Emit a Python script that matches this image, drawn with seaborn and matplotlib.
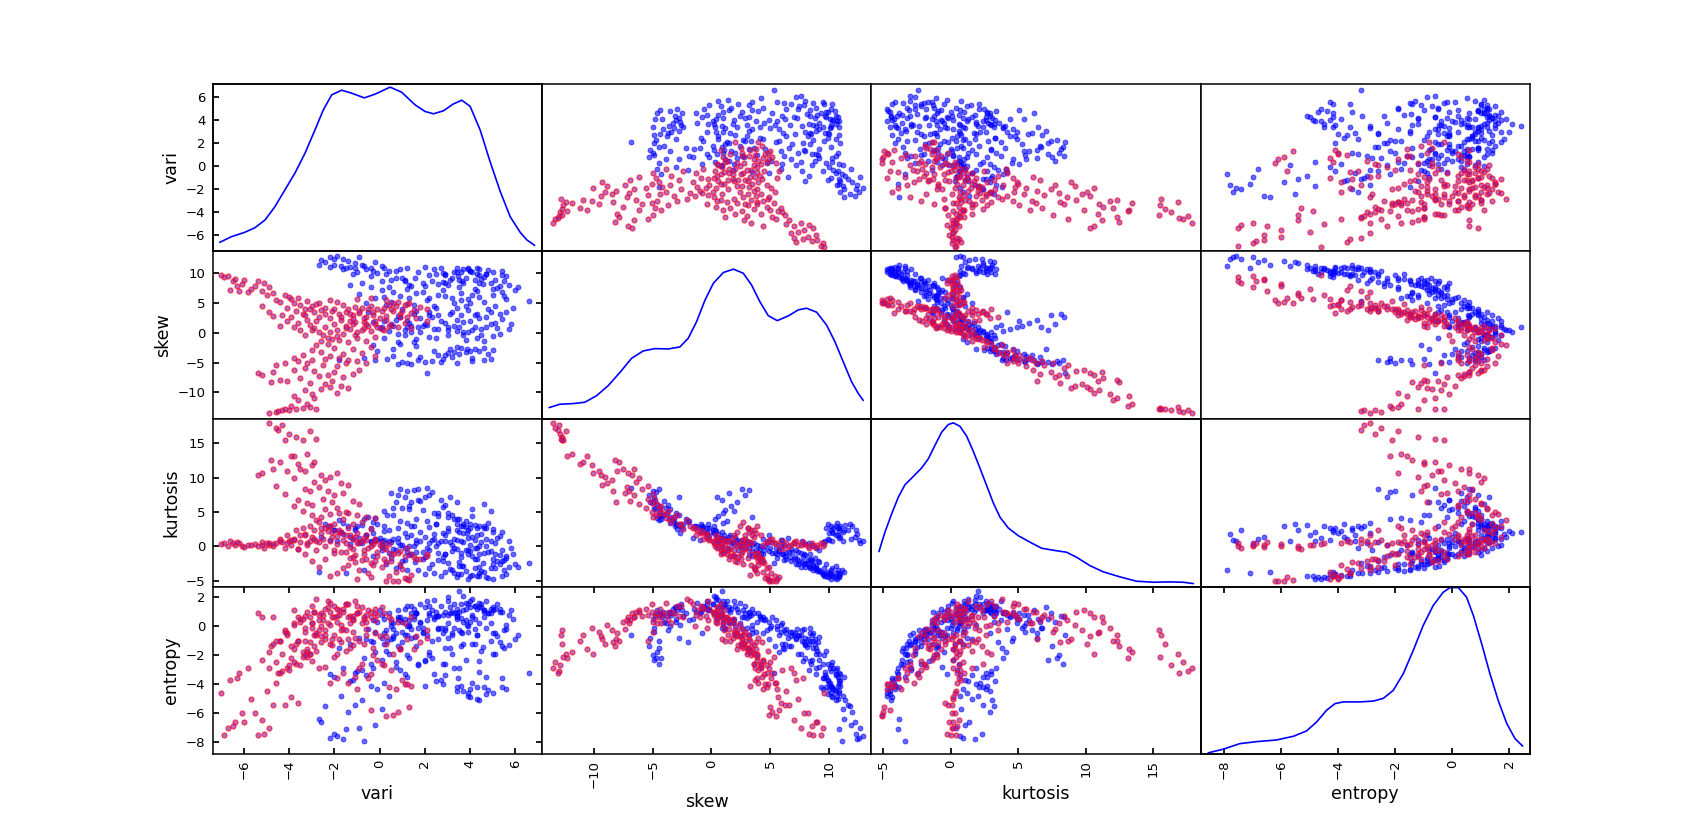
import matplotlib
matplotlib.use('Agg')
import matplotlib.pyplot as plt
import pandas as pd
import seaborn as sns

sns.set_theme(style="white", font="DejaVu Sans", rc={
    'axes.edgecolor': 'black', 'axes.linewidth': 1.1,
    'xtick.direction': 'in', 'ytick.direction': 'in',
    'xtick.top': True, 'ytick.right': True,
    'xtick.bottom': True, 'ytick.left': True,
    'xtick.major.size': 4, 'ytick.major.size': 4,
    'xtick.color': 'black', 'ytick.color': 'black',
    'text.color': 'black', 'axes.labelcolor': 'black',
})

columns = ['vari', 'skew', 'kurtosis', 'entropy']
vari_ticks = [-6, -4, -2, 0, 2, 4, 6]
skew_ticks = [-10, -5, 0, 5, 10]
kurt_ticks = [-5, 0, 5, 10, 15]
entropy_ticks = [-8, -6, -4, -2, 0, 2]

# rows are (vari, skew, kurtosis, entropy)
genuine_high_skew = [
    (3.62, 8.67, -2.81, -0.45), (4.55, 8.17, -2.46, -1.46), (3.46, 9.52, -4.01, -3.59), (4.37, 9.67, -3.96, -3.16),
    (1.54, 9.18, -2.27, -0.74), (2.4, 10.6, -3.9, -3.3), (2.9, 9.9, -3.7, -2.6), (3.1, 8.9, -3.3, -1.5),
    (3.8, 9.2, -3.6, -2.3), (4.1, 10.1, -4.2, -3.9), (0.7, 10.3, -3.2, -2.5), (1.2, 10.8, -3.4, -3.5),
    (0.3, 9.8, -2.6, -1.7), (1.9, 8.4, -1.9, -0.5), (2.6, 8.2, -2.0, -0.9), (5.1, 8.9, -3.2, -1.9),
    (5.4, 9.6, -4.3, -3.6), (4.8, 10.5, -4.6, -4.4), (3.9, 10.7, -4.7, -4.8), (3.4, 10.9, -4.5, -4.5),
    (4.3, 9.8, -4.4, -4.2), (4.0, 10.3, -4.3, -4.9), (3.6, 10.2, -4.1, -4.1), (4.6, 9.3, -3.8, -4.2),
    (5.6, 9.5, -4.1, -4.3), (5.3, 7.9, -2.6, -1.1), (5.7, 8.0, -3.0, -1.3), (6.1, 7.6, -3.0, -0.6),
    (4.9, 8.4, -3.1, -1.0), (4.2, 8.8, -3.2, -1.2), (3.3, 10.1, -3.9, -2.9), (2.2, 9.6, -3.2, -2.0),
    (1.7, 10.2, -3.5, -2.7), (1.0, 9.1, -2.2, -1.1), (0.5, 8.8, -1.7, -0.9), (2.0, 11.0, -4.1, -4.1),
    (2.7, 10.9, -4.3, -3.7), (1.4, 7.9, -1.2, -0.2), (3.0, 8.0, -2.5, -0.8), (4.7, 9.9, -4.5, -4.7),
    (3.7, 8.3, -2.9, -1.2), (5.0, 10.2, -4.7, -4.6), (4.4, 10.6, -4.4, -5.1), (3.2, 9.2, -3.4, -1.9),
    (2.3, 8.7, -2.6, -1.0), (1.1, 8.6, -2.0, -0.6), (5.2, 7.5, -2.2, -0.7), (3.5, 7.7, -2.3, -0.3),
    (4.5, 9.0, -3.6, -1.7), (0.9, 10.6, -2.9, -3.0), (4.2, 7.3, -1.9, -0.2), (5.5, 8.7, -3.5, -1.5),
    (0.1, 8.6, 0.2, -2.3), (0.7, 9.2, -0.6, -2.8), (1.1, 8.9, -0.3, -3.3), (-0.4, 9.5, 0.6, -2.6),
    (-0.8, 8.3, 0.5, -3.0), (-1.2, 9.9, 1.1, -3.7), (-0.1, 10.0, 0.9, -4.3), (0.4, 10.3, 0.7, -4.8),
    (1.3, 8.0, -1.3, -2.2), (2.0, 7.8, -1.6, -2.4), (2.8, 8.5, -2.2, -2.6), (3.5, 8.9, -2.9, -2.9),
    (4.4, 8.4, -3.0, -2.4), (5.0, 7.4, -2.6, -1.9), (0.4, 7.6, -1.0, -1.9), (2.9, 8.4, -1.2, -0.1),
]
genuine_top_skew = [
    (-2.6, 12.2, 1.4, -6.6), (-2.2, 12.6, 0.9, -7.7), (-1.9, 12.9, 0.7, -7.6), (-2.0, 12.3, 2.3, -7.4),
    (-1.4, 12.0, 2.9, -5.9), (-1.1, 11.6, 2.4, -5.4), (-0.8, 11.4, 3.1, -5.1), (-0.4, 10.8, 2.7, -4.1),
    (-1.6, 12.4, 1.8, -7.8), (-2.4, 11.8, 3.2, -5.5), (-1.7, 11.2, 2.0, -4.8), (-0.2, 11.9, 1.1, -6.8),
    (0.2, 10.9, 2.2, -3.9), (-0.9, 12.7, 0.4, -7.0), (-1.3, 11.0, 1.3, -3.8), (-0.6, 10.6, 1.6, -3.4),
    (0.1, 11.2, 0.8, -5.7), (-2.7, 11.3, -3.8, -6.4), (-1.5, 10.9, -3.9, -7.1), (-0.7, 11.1, -3.4, -7.9),
    (-0.3, 10.4, 1.9, -2.9), (-1.0, 10.2, 3.0, -3.1), (6.6, 5.3, -2.4, -3.2),
]
genuine_mid_skew = [
    (3.6, 3.0, 0.73, 0.56), (3.2, 5.76, -0.75, -0.61), (4.4, 6.0, -1.2, 0.2), (2.6, 6.4, -1.0, -0.2),
    (2.1, 5.5, -0.2, 0.4), (1.3, 5.9, 0.1, 0.1), (0.6, 6.8, -0.4, -0.7), (0.1, 7.2, -0.6, -0.8),
    (5.0, 6.4, -1.8, -0.5), (5.6, 5.6, -1.7, -0.2), (5.9, 4.2, -1.1, 0.5), (4.9, 3.5, -0.7, 1.2),
    (4.2, 2.9, -0.2, 1.4), (3.4, 2.2, 0.9, 1.2), (2.9, 1.6, 1.7, 1.0), (2.0, 1.5, 1.4, 1.3),
    (1.4, 1.1, 1.6, 1.4), (0.8, 2.8, 0.6, 0.6), (1.6, 3.6, 0.5, 0.9), (2.5, 4.1, 0.1, 0.7),
    (3.8, 4.5, -0.5, 0.4), (4.6, 5.2, -1.0, 0.6), (5.2, 0.8, 1.2, 1.5), (4.7, 1.0, 1.0, 1.7),
    (4.1, 0.4, 1.3, 1.9), (3.7, 0.2, 1.9, 2.1), (3.5, 0.9, 2.0, 2.4), (3.0, 0.4, 2.2, 2.0),
    (2.4, 0.6, 1.8, 1.8), (1.8, 0.1, 2.1, 1.5), (1.1, -0.4, 1.9, 1.2), (0.4, 0.3, 2.4, 0.9),
    (4.0, 1.9, 0.2, 1.7), (4.4, 2.4, 0.1, 1.6), (3.1, 3.2, 0.6, 0.9), (2.3, 2.7, 0.9, 1.1),
    (1.0, 3.9, 0.2, 0.3), (0.3, 4.7, 0.5, -0.3), (-0.2, 5.9, 0.9, -0.4), (-0.6, 4.9, 1.6, -0.9),
    (5.4, 2.3, -0.5, 1.0), (5.8, 1.4, -0.3, 1.1), (5.3, 3.2, -1.3, 1.0), (4.8, 4.0, -0.9, 0.9),
    (3.9, 5.6, -1.1, 0.0), (4.3, 7.0, -1.8, -0.6), (2.8, 7.1, -1.5, -0.5), (1.9, 6.9, -0.8, -0.4),
    (1.2, 7.4, -0.9, -0.6), (0.5, 5.1, 0.6, 0.0), (4.5, 0.6, 0.6, 1.3), (3.3, 1.2, 1.1, 1.5),
    (2.7, 2.0, 0.8, 1.4), (5.1, 1.7, 0.4, 1.2), (2.2, 3.4, 0.4, 0.8), (1.5, 4.6, 0.0, 0.5),
    (3.6, 6.7, -1.6, -0.4), (5.5, 6.2, -2.0, -0.3), (4.0, 4.9, -0.7, 0.3), (3.4, 4.1, -0.4, 0.6),
    (6.0, 7.2, -2.6, -0.9), (-0.9, 6.5, 1.2, -0.8), (-1.3, 8.0, 0.3, -1.2), (-0.4, 7.7, 0.7, -1.0),
    (4.1, 6.3, -1.4, -1.2), (3.6, 5.4, -1.0, -1.4), (2.9, 6.1, -1.1, -1.5), (2.2, 5.8, -0.5, -1.8),
    (1.6, 6.6, -0.9, -1.4), (0.9, 6.2, 0.2, -1.6), (5.4, 6.8, -2.2, -1.4), (0.2, 6.0, 0.9, -1.2),
    (3.9, 3.8, -0.6, -0.4), (4.3, 3.2, -0.3, -0.6), (4.7, 2.6, 0.0, -0.1), (5.1, 4.4, -1.2, -0.5),
    (3.2, 3.5, 0.2, -0.5), (2.6, 3.0, 0.5, -0.1), (1.8, 2.4, 0.8, 0.2), (1.2, 2.0, 1.3, 0.0),
    (0.6, 1.2, 1.0, -0.2), (3.7, 1.8, 0.6, 0.3), (4.2, 1.0, 0.9, 0.5), (4.9, 1.5, 0.7, 0.2),
    (5.6, 3.5, -1.4, 0.1), (3.0, -0.4, 2.6, 1.7), (2.2, -0.7, 2.8, 1.4), (1.5, -1.5, 3.0, 1.2),
    (0.8, -0.2, 2.7, 1.1), (3.8, -1.2, 2.8, 1.6), (4.5, -0.4, 1.8, 1.5), (5.3, -0.2, 1.5, 1.2),
    (5.7, 0.6, 0.8, 0.8),
]
genuine_low_skew = [
    (2.09, -6.81, 8.46, -0.6), (0.33, -4.46, 4.57, -0.99), (3.87, -2.64, 1.92, 0.11), (1.0, -4.9, 5.5, -0.4),
    (1.4, -5.2, 6.4, -0.8), (2.0, -4.9, 7.2, -2.3), (1.7, -4.5, 8.3, -2.6), (2.3, -4.7, 7.9, -2.2),
    (1.2, -5.0, 8.0, -2.0), (0.6, -3.9, 5.6, 0.2), (2.6, -3.8, 4.8, 0.7), (3.0, -3.4, 4.2, 0.8),
    (3.3, -3.2, 3.9, 0.9), (3.5, -3.6, 4.0, 1.0), (3.8, -3.3, 3.6, 1.2), (4.0, -3.0, 3.3, 1.3),
    (4.2, -2.8, 3.1, 1.4), (4.4, -3.1, 2.9, 1.3), (4.6, -2.5, 2.7, 1.1), (3.6, -2.6, 3.0, 1.5),
    (3.2, -4.1, 4.6, 1.0), (2.8, -4.4, 5.7, 0.8), (4.8, -3.5, 3.4, 0.9), (4.1, -4.2, 4.4, 0.6),
    (5.0, -2.9, 2.5, 1.1), (2.4, -3.0, 4.9, 0.5), (1.6, -2.2, 4.0, 0.9), (0.9, -1.9, 3.7, 0.4),
    (-0.1, -3.0, 3.2, 0.3), (3.4, -2.4, 3.2, 0.7), (1.8, -4.0, 6.6, 0.3), (2.9, -3.7, 6.0, -0.3),
    (0.8, -5.3, 7.5, -1.4), (-0.2, -4.6, 4.1, -1.8), (-1.8, -4.5, 3.8, -1.5), (-0.7, -4.3, 3.9, -2.2),
    (4.6, -4.6, 6.2, 1.1), (3.1, -2.8, 7.1, 1.3), (4.1, -4.8, 5.4, 0.8), (3.4, -5.0, 6.5, 0.5),
    (2.7, -4.9, 6.8, -0.1), (4.9, -4.4, 5.1, 0.9), (1.3, -3.5, 5.4, 0.0), (0.6, -2.8, 4.6, -0.8),
    (-0.3, -2.0, 3.5, -1.1), (0.2, -0.8, 2.9, -0.5),
]
genuine_kurt_ridge = [
    (1.9, 1.2, 5.3, -0.1), (1.3, 1.7, 5.8, 0.4), (0.7, 2.2, 6.4, -0.5), (2.6, 0.6, 4.4, 0.7),
    (3.0, 1.0, 4.9, 0.2), (2.2, 2.9, 7.4, 0.9), (1.5, 3.2, 8.2, 0.7), (0.9, 2.6, 8.4, 0.6),
    (0.5, 1.5, 7.7, 0.3), (1.1, 0.5, 7.2, 0.5), (1.7, 0.9, 6.7, -0.1), (3.4, 0.3, 3.9, 0.9),
    (3.7, -0.3, 3.2, 1.1), (4.3, -0.8, 2.6, 1.2), (2.5, -0.9, 3.3, 1.0), (1.4, 0.2, 3.0, 0.9),
    (0.2, 1.9, 5.1, 0.5), (-0.5, 3.5, 4.2, -0.2), (5.0, -0.6, 2.1, 1.3), (4.6, -1.3, 2.9, 1.0),
    (3.9, 0.1, 2.4, 1.5), (2.1, 1.3, 3.7, 1.7), (1.2, 1.0, 3.4, 1.4), (0.0, 0.8, 1.2, 1.1),
    (0.1, 0.9, -0.1, 0.8), (-0.3, 1.8, -1.4, 0.4), (0.8, -1.6, 1.2, 0.5), (1.6, -1.0, 0.9, 0.9),
    (2.4, 4.4, 1.1, 0.6), (3.3, 5.0, -0.3, -0.1), (2.9, 9.7, 0.7, -3.4), (3.4, 10.2, 2.4, -4.2),
    (2.8, 10.0, 1.9, -4.0), (4.0, 10.4, 2.6, -4.3), (4.3, 10.8, 1.6, -5.0), (3.7, 10.6, 2.9, -4.5),
    (3.9, 10.9, 1.2, -4.6), (2.5, 9.9, 3.3, -3.8), (5.4, 10.3, 2.1, -4.2), (4.7, 9.8, 2.7, -3.5),
    (-2.2, 11.0, 3.0, -3.3), (-2.0, 11.3, 2.4, -3.5), (-1.6, 10.7, 3.4, -2.9), (-1.1, 10.9, 2.6, -3.2),
]
forged_far_tail = [
    (-4.9, -13.5, 17.9, -2.9), (-4.6, -13.3, 17.2, -2.5), (-4.3, -13.0, 17.6, -3.1), (-4.0, -12.9, 16.3, -2.7),
    (-3.7, -12.7, 15.9, -1.2), (-3.4, -12.6, 15.5, -2.1), (-3.1, -12.4, 16.8, -1.9), (-2.8, -12.8, 15.6, -0.6),
    (-4.2, -12.7, 15.4, -0.3), (-4.5, -13.1, 16.9, -3.2), (-3.9, -12.3, 13.1, -2.2), (-3.2, -11.9, 13.4, -1.8),
    (-3.6, -11.2, 12.0, -1.0), (-2.9, -10.9, 12.3, -0.6), (-3.8, -10.6, 13.2, -1.6), (-3.0, -10.2, 11.8, -0.1),
    (-3.3, -9.6, 11.0, -0.4), (-2.6, -9.4, 10.3, -0.7), (-2.2, -9.1, 10.1, -1.2), (-2.4, -8.5, 9.7, -0.3),
    (-1.9, -10.1, 10.6, -1.9), (-1.7, -8.9, 9.2, 0.1), (-1.4, -9.3, 8.9, -0.9), (-4.1, -8.0, 10.9, -0.5),
    (-3.5, -7.5, 11.3, 0.3), (-4.4, -7.9, 12.3, -1.0), (-4.8, -8.2, 12.5, -1.4), (-5.2, -7.1, 10.6, 0.6),
    (-5.4, -6.8, 10.3, 0.9), (-4.7, -6.6, 11.2, 0.6), (-3.8, -6.2, 9.9, 1.1), (-3.3, -5.9, 8.4, 0.7),
    (-2.9, -6.4, 9.3, 1.0), (-2.7, -7.2, 8.6, 0.4), (-2.3, -7.0, 8.0, 0.2), (-2.0, -6.6, 7.4, 0.6),
    (-1.6, -7.4, 7.7, -0.2), (-1.2, -6.9, 6.6, 0.4), (-0.9, -6.2, 6.1, 1.0), (-2.5, -5.4, 6.9, 0.8),
    (-1.9, -5.6, 5.6, 1.2), (-1.5, -5.1, 5.0, 1.5), (-1.0, -4.7, 4.6, 0.9), (-0.6, -5.0, 4.2, 0.3),
    (-2.1, -8.1, 6.4, -0.9), (-3.1, -8.4, 8.1, -1.1),
]
forged_upper_band = [
    (-3.1, 3.9, 3.0, -1.9), (-2.9, 3.4, 2.3, -1.4), (-2.6, 3.8, 1.9, -1.1), (-2.4, 3.1, 2.6, -0.6),
    (-2.1, 3.6, 1.3, -1.3), (-1.8, 3.2, 2.0, -0.9), (-1.5, 3.5, 1.6, -1.7), (-1.2, 2.9, 1.1, -0.4),
    (-0.9, 3.3, 0.6, -1.0), (-0.6, 2.7, 0.9, -0.6), (-0.3, 3.0, 0.3, -1.5), (0.0, 2.4, 0.2, -0.7),
    (0.3, 2.8, -0.4, -1.2), (0.6, 3.6, -1.1, -1.9), (0.9, 3.2, -0.7, -1.6), (1.2, 2.6, -0.2, -0.9),
    (1.5, 3.8, -1.5, -1.6), (1.8, 4.3, -1.9, -1.1), (2.1, 4.0, -1.2, -0.8), (-0.1, 3.9, -1.4, -2.3),
    (0.2, 4.2, -1.9, -2.7), (0.5, 4.0, -2.2, -3.0), (-0.4, 4.5, -2.5, -3.3), (-0.8, 4.1, -2.0, -2.6),
    (-1.1, 4.3, -2.3, -3.5), (-1.4, 4.0, -2.7, -3.9), (1.0, 3.7, -3.3, -3.7), (1.4, 3.3, -4.2, -4.1),
    (0.7, 4.4, -3.7, -4.3), (0.4, 4.7, -4.3, -4.2), (1.1, 4.6, -4.6, -4.0), (1.3, 5.0, -4.9, -5.6),
    (0.8, 5.2, -5.0, -5.9), (0.3, 5.5, -5.1, -6.2), (0.6, 4.9, -5.1, -6.1), (1.2, 4.8, -4.7, -4.0),
    (-2.7, 2.7, 3.5, -0.3), (-2.2, 2.4, 2.9, 0.1), (-1.7, 2.2, 2.1, -0.3), (-1.3, 1.9, 1.7, 0.2),
    (-0.7, 1.8, 1.2, 0.5), (-0.2, 1.5, 0.7, 0.4), (0.4, 1.2, 0.3, 0.6), (-3.4, 3.1, 2.7, -1.8),
    (-3.7, 3.6, 2.4, -2.6), (-4.1, 4.2, 1.6, -2.9), (-4.4, 5.2, 1.0, -3.2), (-4.0, 6.0, 0.7, -3.0),
    (-3.8, 5.0, 0.9, -2.5), (-3.5, 4.7, 0.6, -2.7), (-3.2, 5.3, 0.4, -2.1), (-2.8, 4.8, 0.7, -1.7),
    (-4.6, 5.5, 0.5, -3.9), (-5.0, 6.4, 0.4, -4.5), (-5.7, 7.4, 0.2, -5.0), (-6.1, 8.2, 0.1, -6.0),
    (-6.4, 9.0, 0.2, -6.6), (-6.7, 9.5, 0.1, -7.0), (-6.9, 9.3, 0.4, -7.5), (-6.5, 8.6, 0.5, -6.9),
    (-6.0, 8.9, -0.1, -6.6), (-5.5, 7.9, 0.3, -6.0), (-5.2, 7.0, 0.6, -6.5), (-4.9, 7.6, 0.2, -7.0),
    (-5.1, 8.3, -0.3, -7.4), (-5.4, 8.7, 0.0, -7.5), (-7.0, 9.6, 0.3, -4.6), (-6.6, 7.2, 0.8, -3.7),
    (-6.2, 7.0, 0.5, -3.2), (-5.8, 6.8, 0.2, -2.9), (-6.3, 7.8, 0.6, -3.6), (-4.2, 6.3, -0.2, -5.4),
    (-3.9, 5.7, 0.2, -4.9), (-3.6, 5.9, -0.4, -5.3), (-4.7, 6.6, 0.1, -5.4),
]
forged_mid = [
    (-2.5, -0.3, 1.0, 0.4), (-2.2, 0.1, 0.7, 1.0), (-1.9, 0.4, 0.3, 0.3), (-1.6, -0.2, 0.9, 1.2),
    (-1.3, 0.6, -0.1, 0.7), (-1.0, 0.2, 0.4, 0.9), (-0.7, 0.8, -0.5, 0.6), (-0.4, 0.3, 0.0, 1.0),
    (-0.1, 0.9, -0.8, 0.8), (0.2, 0.5, -0.3, 0.9), (0.5, 1.3, -1.2, 0.5), (0.8, 1.0, -1.0, 0.3),
    (1.1, 1.6, -1.4, 0.2), (1.4, 0.8, -1.1, 0.6), (-2.0, 1.4, -0.6, -0.6), (-1.5, 1.1, -0.9, -0.3),
    (-1.1, 1.8, -1.3, -0.8), (-0.6, 1.5, -1.8, -0.2), (-0.2, 2.0, -2.1, -0.5), (0.3, 2.2, -2.3, -0.7),
    (-2.4, 0.9, 0.1, -0.9), (-2.7, 0.2, 0.6, 0.8), (-3.0, 0.5, 1.4, 0.2), (-3.3, -0.4, 1.8, -0.1),
    (-1.8, -1.2, 2.3, 1.1), (-1.4, -1.6, 2.7, 1.5), (-1.0, -0.9, 1.9, 1.4), (-0.6, -1.3, 1.6, 0.8),
    (-0.2, -0.7, 1.1, 1.2), (-2.3, -1.8, 3.0, 1.7), (-2.8, -2.1, 3.8, 1.9), (-2.0, -2.6, 3.3, 1.4),
    (-2.6, -3.2, 4.2, 0.9), (-3.0, -2.9, 4.6, 1.4), (-1.6, -3.5, 3.9, 1.0), (-1.2, -2.8, 3.2, 0.7),
    (-0.8, -3.4, 3.5, 0.2), (-0.4, -2.4, 2.5, 0.6), (-3.4, -3.7, 5.1, 0.5), (-3.8, -4.3, 5.9, 0.2),
    (-4.2, -5.0, 7.6, -0.4), (-4.6, -5.4, 8.7, -1.0), (-3.6, -4.8, 6.8, 0.6), (-3.2, -5.1, 6.3, 1.0),
    (-2.4, -4.4, 5.4, 1.2), (-1.8, -4.2, 4.8, 0.8), (-2.1, -1.0, 2.0, 0.6), (-2.6, -1.4, 2.6, 0.0),
    (0.9, 2.7, -2.6, -1.5), (1.6, 2.5, -1.8, -0.7), (2.1, 2.0, -1.4, -0.3), (-3.6, 1.6, -0.4, -1.0),
    (-3.2, 2.2, 0.2, -1.6), (-2.8, 1.9, -0.5, -0.5), (-1.7, 2.6, -0.9, -1.1), (-1.2, 2.3, -1.6, -1.3),
    (-0.3, 3.4, -2.8, -2.0), (0.1, 3.6, -3.0, -2.6), (-0.9, 3.7, -3.4, -2.9), (-0.5, 3.9, -3.9, -3.6),
    (-4.4, 1.2, 0.7, -1.0), (-4.1, 2.0, 0.4, -0.6), (-3.8, 1.0, 1.0, 0.1), (-3.5, 0.4, 1.6, 0.5),
    (-3.1, 1.3, 0.8, 0.6), (-2.9, 0.8, 1.1, 1.0), (-4.7, 2.8, 0.3, -1.2), (-4.9, 3.4, 0.4, -1.8),
    (-4.3, 3.0, 0.6, -1.9), (-3.9, 2.6, 0.9, -1.4), (-3.3, 2.9, 1.6, -1.0), (-5.2, 4.4, 0.2, -2.3),
    (-2.3, -0.8, 2.2, 1.3), (-1.9, -0.5, 1.5, 0.7), (-1.5, 0.8, 0.5, 1.5), (-1.1, -0.3, 1.3, 1.7),
    (-0.8, 0.5, 0.7, 1.3), (-0.5, 1.1, -0.2, 1.1), (-1.2, 1.4, -0.4, 0.5), (0.1, 0.6, 0.4, 1.3),
    (-2.0, 3.9, -1.0, -2.1), (-2.4, 4.2, -1.8, -2.8), (-1.6, 4.7, -3.2, -3.2), (-1.9, 5.1, -3.9, -3.6),
    (-2.2, 5.4, -4.3, -3.9), (-1.0, 5.6, -4.7, -4.3), (-0.4, 5.8, -4.5, -5.8), (-2.7, 4.9, -3.0, -2.9),
    (-3.0, 4.4, -2.2, -2.4), (-3.3, 3.9, -1.2, -2.0), (-1.3, 3.1, -1.7, -1.5), (-0.7, 2.5, -1.2, -1.2),
    (-3.0, -4.6, 6.0, 0.2), (-2.2, -3.9, 4.7, 1.6), (-1.4, -4.5, 4.9, 0.6), (-0.2, -3.9, 4.1, 0.9),
]

curve_vari_x = [-7.07, -6.55, -5.96, -5.52, -5.07, -4.63, -4.19, -3.75, -3.30, -2.86, -2.49, -2.12, -1.68, -1.24, -0.68, -0.21,
                0.46, 0.97, 1.56, 2.0, 2.38, 2.82, 3.26, 3.63, 4.0, 4.44, 4.88, 5.33, 5.77, 6.21, 6.51, 6.85]
curve_vari_y = [.054, .088, .114, .141, .187, .267, .367, .466, .586, .725, .845, .934, .962, .944, .916, .938,
                .98, .95, .875, .835, .821, .839, .88, .902, .865, .725, .536, .357, .207, .114, .068, .036]
curve_skew_x = [-13.82, -12.91, -11.77, -10.78, -9.78, -8.79, -7.8, -6.8, -5.81, -4.81, -3.68, -2.68, -1.97, -1.26, -0.54, .17, 1.02,
                1.88, 2.71, 3.42, 4.13, 4.84, 5.61, 6.55, 7.4, 8.11, 8.97, 9.81, 10.52, 11.23, 11.94, 12.51, 12.94]
curve_skew_y = [.068, .088, .092, .1, .139, .199, .277, .362, .406, .42, .418, .43, .482, .581, .71, .81, .874,
                .894, .87, .8, .7, .617, .587, .615, .651, .661, .637, .561, .462, .342, .223, .153, .111]
curve_kurt_x = [-5.3, -4.86, -4.36, -3.87, -3.38, -2.76, -2.14, -1.65, -1.16, -.66, -.17, .2, .69, 1.19, 1.68, 2.18, 2.67,
                3.16, 3.66, 4.27, 5.01, 5.88, 6.74, 7.6, 8.59, 9.33, 10.32, 11.31, 12.54, 13.77, 15.01, 16.24, 17.23, 17.97]
curve_kurt_y = [.209, .324, .434, .533, .607, .657, .708, .762, .842, .921, .967, .977, .957, .898, .808, .706, .603,
                .5, .414, .35, .304, .265, .229, .217, .205, .175, .125, .088, .058, .032, .026, .028, .026, .018]
curve_entropy_x = [-8.56, -8.03, -7.45, -6.86, -6.16, -5.57, -5.11, -4.76, -4.41, -4.11, -3.82, -3.24, -2.77, -2.42, -2.07, -1.72,
                   -1.37, -1.02, -.67, -.32, -.08, .21, .5, .74, 1.03, 1.32, 1.61, 1.91, 2.2, 2.47]
curve_entropy_y = [.008, .03, .063, .075, .085, .107, .139, .192, .262, .302, .312, .312, .317, .333, .381, .48,
                   .619, .768, .887, .966, .994, .994, .937, .827, .659, .48, .321, .183, .093, .048]

limits = {'vari': (-7.39, 7.17), 'skew': (-14.44, 13.62), 'kurtosis': (-5.87, 18.51), 'entropy': (-8.825, 2.725)}
ticks = {'vari': vari_ticks, 'skew': skew_ticks, 'kurtosis': kurt_ticks, 'entropy': entropy_ticks}
curves = {'vari': (curve_vari_x, curve_vari_y), 'skew': (curve_skew_x, curve_skew_y),
          'kurtosis': (curve_kurt_x, curve_kurt_y), 'entropy': (curve_entropy_x, curve_entropy_y)}

genuine = pd.DataFrame(genuine_high_skew + genuine_top_skew + genuine_mid_skew + genuine_low_skew + genuine_kurt_ridge,
                       columns=columns)
forged = pd.DataFrame(forged_far_tail + forged_upper_band + forged_mid, columns=columns)

fig, axes = plt.subplots(4, 4, figsize=(17, 8.38), dpi=100)
fig.subplots_adjust(left=0.125, right=0.9, bottom=0.1, top=0.9, wspace=0, hspace=0)

for i, row_name in enumerate(columns):
    for j, col_name in enumerate(columns):
        ax = axes[i, j]
        if i == j:
            # density curve has its own hidden y scale
            twin = ax.twinx()
            sns.lineplot(x=curves[col_name][0], y=curves[col_name][1], color='#0000ff', lw=1.2, ax=twin, errorbar=None)
            twin.set_ylim(0, 1)
            twin.set_yticks([])
            twin.set_ylabel('')
        else:
            sns.scatterplot(data=genuine, x=col_name, y=row_name, color='#0000ff', s=13, alpha=0.6,
                            linewidth=0.6, edgecolor='#0000ff', ax=ax)
            sns.scatterplot(data=forged, x=col_name, y=row_name, color='#8a1fa0', s=13, alpha=0.65,
                            linewidth=0.9, edgecolor='#ff0020', ax=ax)
        ax.set_xlim(limits[col_name])
        ax.set_ylim(limits[row_name])
        ax.set_xticks(ticks[col_name] if i == 3 else [])
        ax.set_yticks(ticks[row_name] if j == 0 else [])
        ax.tick_params(axis='x', labelsize=9.5, labelrotation=90, pad=4)
        ax.tick_params(axis='y', labelsize=9.5, pad=5)
        ax.set_xlabel(col_name if i == 3 else '', fontsize=12.5)
        ax.set_ylabel(row_name if j == 0 else '', fontsize=12.5)

plt.savefig('out.png', dpi=100)
